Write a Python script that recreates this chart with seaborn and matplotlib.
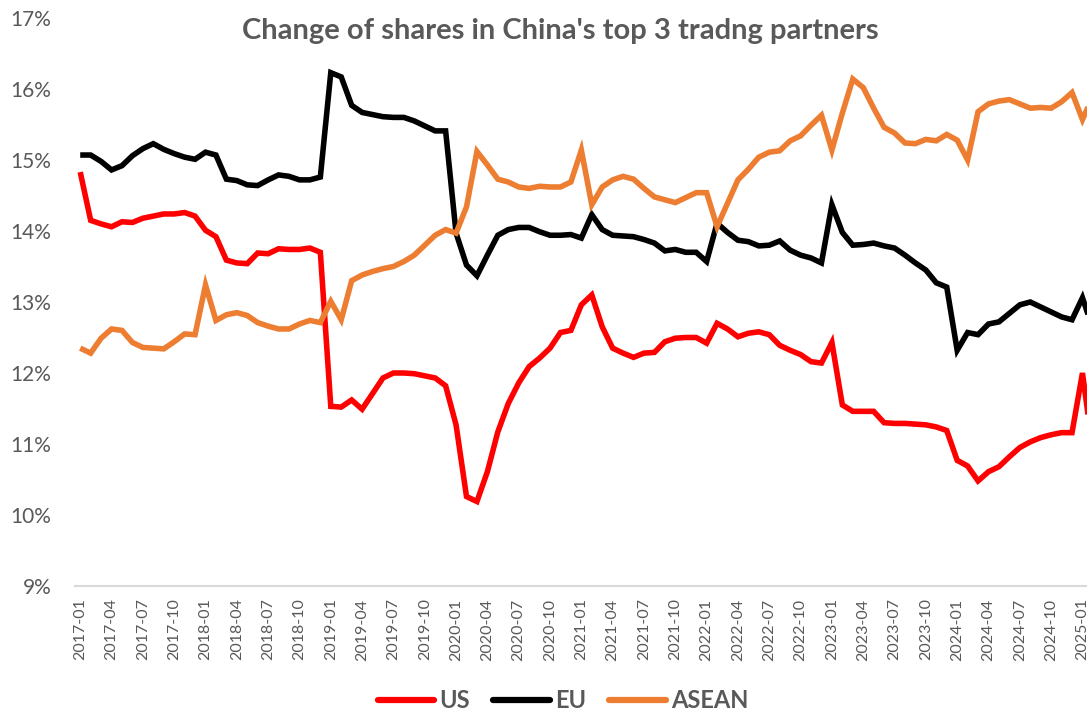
import numpy as np
import pandas as pd
import matplotlib
matplotlib.use("Agg")
import matplotlib.pyplot as plt
from matplotlib.lines import Line2D
import seaborn as sns

# monthly categories, 2017-01 .. 2025-02 (last month sits past the cropped edge)
months = list(pd.period_range("2017-01", "2025-02", freq="M").strftime("%Y-%m"))

# shares of China's trade, in percent
us = [
    14.83, 14.15, 14.10, 14.06, 14.13, 14.12, 14.18, 14.21, 14.24, 14.24, 14.26, 14.21,
    14.01, 13.92, 13.59, 13.55, 13.54, 13.69, 13.68, 13.75, 13.74, 13.74, 13.76, 13.70,
    11.53, 11.52, 11.62, 11.49, 11.71, 11.93, 12.00, 12.00, 11.99, 11.96, 11.93, 11.82,
    11.27, 10.26, 10.19, 10.61, 11.17, 11.57, 11.86, 12.09, 12.21, 12.35, 12.57, 12.60,
    12.96, 13.10, 12.65, 12.35, 12.28, 12.22, 12.28, 12.29, 12.44, 12.49, 12.50, 12.50,
    12.42, 12.70, 12.62, 12.51, 12.56, 12.58, 12.54, 12.39, 12.32, 12.26, 12.16, 12.14,
    12.43, 11.55, 11.46, 11.46, 11.46, 11.30, 11.29, 11.29, 11.28, 11.27, 11.24, 11.19,
    10.77, 10.69, 10.48, 10.61, 10.68, 10.82, 10.95, 11.03, 11.09, 11.13, 11.16, 11.16,
    12.00, 10.90,
]
eu = [
    15.07, 15.07, 14.98, 14.86, 14.92, 15.06, 15.16, 15.23, 15.15, 15.09, 15.04, 15.01,
    15.11, 15.07, 14.73, 14.71, 14.65, 14.64, 14.72, 14.79, 14.77, 14.72, 14.72, 14.76,
    16.23, 16.17, 15.77, 15.67, 15.64, 15.61, 15.60, 15.60, 15.55, 15.48, 15.41, 15.41,
    13.97, 13.52, 13.37, 13.66, 13.94, 14.02, 14.05, 14.05, 13.99, 13.94, 13.94, 13.95,
    13.90, 14.23, 14.02, 13.94, 13.93, 13.92, 13.88, 13.83, 13.72, 13.74, 13.70, 13.70,
    13.57, 14.11, 13.98, 13.87, 13.85, 13.79, 13.80, 13.86, 13.73, 13.66, 13.62, 13.55,
    14.37, 13.98, 13.80, 13.81, 13.83, 13.79, 13.76, 13.66, 13.55, 13.45, 13.27, 13.21,
    12.32, 12.57, 12.54, 12.69, 12.72, 12.84, 12.96, 13.00, 12.93, 12.86, 12.79, 12.75,
    13.06, 12.62,
]
asean = [
    12.35, 12.28, 12.49, 12.62, 12.60, 12.43, 12.36, 12.35, 12.34, 12.44, 12.55, 12.54,
    13.24, 12.74, 12.82, 12.85, 12.81, 12.71, 12.66, 12.62, 12.62, 12.69, 12.74, 12.71,
    13.01, 12.75, 13.30, 13.38, 13.43, 13.47, 13.50, 13.57, 13.66, 13.80, 13.94, 14.02,
    13.97, 14.34, 15.12, 14.93, 14.73, 14.69, 14.62, 14.60, 14.63, 14.62, 14.62, 14.69,
    15.14, 14.37, 14.62, 14.72, 14.77, 14.73, 14.60, 14.48, 14.44, 14.40, 14.47, 14.54,
    14.54, 14.06, 14.39, 14.72, 14.87, 15.04, 15.11, 15.13, 15.27, 15.34, 15.49, 15.63,
    15.14, 15.66, 16.14, 16.02, 15.73, 15.46, 15.38, 15.24, 15.23, 15.29, 15.27, 15.36,
    15.28, 15.00, 15.68, 15.79, 15.83, 15.85, 15.79, 15.73, 15.74, 15.73, 15.82, 15.95,
    15.57, 15.90,
]

series_names = ["US", "EU", "ASEAN"]
colors = {"US": "#FF0000", "EU": "#000000", "ASEAN": "#ED7D31"}
y_ticks = [9, 10, 11, 12, 13, 14, 15, 16, 17]

assert len(us) == len(eu) == len(asean) == len(months)

# long-form table for seaborn
df = pd.DataFrame({
    "pos": list(range(len(months))) * 3,
    "share": us + eu + asean,
    "partner": [n for n in series_names for _ in months],
})

sns.set_style("white")
plt.rcParams["font.family"] = ["Lato", "DejaVu Sans"]
grey = "#595959"

fig = plt.figure(figsize=(10.87, 7.15), dpi=100)
# axes runs off the right edge, like the cropped original
ax = fig.add_axes([75 / 1087, 129 / 715, 1012 / 1087, 568 / 715])

sns.lineplot(data=df, x="pos", y="share", hue="partner", hue_order=series_names,
             palette=colors, linewidth=4, legend=False, ax=ax,
             solid_joinstyle="miter", solid_capstyle="butt")

ax.set_xlim(-0.5, -0.5 + 1012 / 10.44)
ax.set_ylim(9, 17)
ax.set_xlabel("")
ax.set_ylabel("")

# y axis: percent labels, no tick marks
ax.set_yticks(y_ticks)
ax.set_yticklabels([f"{v}%" for v in y_ticks])
ax.tick_params(axis="y", length=0, pad=17, labelsize=15, labelcolor=grey)

# x axis: labels every 3 months, tick marks on category boundaries
label_pos = list(range(0, len(months), 3))
ax.set_xticks(label_pos)
ax.set_xticklabels([months[i] for i in label_pos], rotation=90)
ax.set_xticks([p - 0.5 for p in label_pos], minor=True)
ax.tick_params(axis="x", which="major", length=0, pad=9, labelsize=11.5, labelcolor=grey)
ax.tick_params(axis="x", which="minor", length=6, width=1.3, color="#D9D9D9")

for side in ["top", "right", "left"]:
    ax.spines[side].set_visible(False)
ax.spines["bottom"].set_color("#D9D9D9")
ax.spines["bottom"].set_linewidth(1.5)
ax.grid(False)

fig.text(560.5 / 1087, 1 - 31 / 715, "Change of shares in China's top 3 tradng partners",
         ha="center", va="center", fontsize=21, fontweight="bold", color=grey)

handles = [Line2D([0], [0], color=colors[n], linewidth=4.5, solid_capstyle="round")
           for n in series_names]
leg = fig.legend(handles, series_names, loc="center", bbox_to_anchor=(563 / 1087, 1 - 701 / 715),
                 ncol=3, frameon=False, fontsize=17, handlelength=2.4, handletextpad=0.2,
                 columnspacing=1.0, borderpad=0, borderaxespad=0)
for t in leg.get_texts():
    t.set_color(grey)
    t.set_fontweight("bold")

fig.savefig("out.png", dpi=100)
plt.close(fig)
